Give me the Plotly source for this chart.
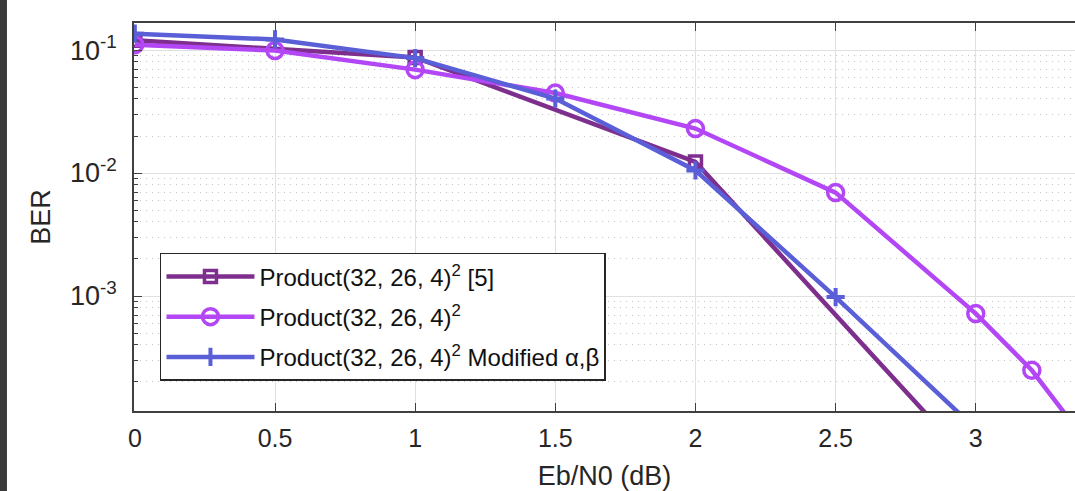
import plotly.graph_objects as go

# ---- data ----
x_ref = [0, 1, 2, 3]
ber_ref = [0.120, 0.087, 0.0123, 4.0e-5]

x_prod = [0, 0.5, 1, 1.5, 2, 2.5, 3, 3.2, 3.4]
ber_prod = [0.1106, 0.099, 0.0693, 0.0447, 0.0230, 0.00693, 7.2e-4, 2.49e-4, 6.3e-5]

x_mod = [0, 0.5, 1, 1.5, 2, 2.5, 3]
ber_mod = [0.136, 0.122, 0.086, 0.0403, 0.0105, 9.8e-4, 8.3e-5]

names = [
    "Product(32, 26, 4)<sup>2</sup> [5]",
    "Product(32, 26, 4)<sup>2</sup>",
    "Product(32, 26, 4)<sup>2</sup> Modified α,β",
]
colors = ["#7E2F8E", "#B346F5", "#5A5FD8"]

y_major = [0.1, 0.01, 0.001]
y_major_text = ["10<sup>-1</sup>", "10<sup>-2</sup>", "10<sup>-3</sup>"]
y_minor = [m * 10.0 ** e for e in (-4, -3, -2, -1) for m in range(2, 10)]
x_ticks = [0, 0.5, 1, 1.5, 2, 2.5, 3]
x_tick_text = ["0", "0.5", "1", "1.5", "2", "2.5", "3"]

FONT = "Liberation Sans, Arial, sans-serif"
TXT = "#262626"

fig = go.Figure()
fig.add_trace(go.Scatter(
    x=x_ref, y=ber_ref, name=names[0], mode="lines+markers", legendgroup="a",
    line=dict(color=colors[0], width=4.5),
    marker=dict(symbol="square-open", size=12, color=colors[0], line=dict(width=3.5, color=colors[0])),
))
fig.add_trace(go.Scatter(
    x=x_prod, y=ber_prod, name=names[1], mode="lines+markers", legendgroup="b",
    line=dict(color=colors[1], width=4.5),
    marker=dict(symbol="circle-open", size=16, color=colors[1], line=dict(width=3.5, color=colors[1])),
))
fig.add_trace(go.Scatter(
    x=x_mod, y=ber_mod, name=names[2], mode="lines+markers", legendgroup="c",
    line=dict(color=colors[2], width=4.5),
    marker=dict(symbol="cross-thin-open", size=13, color=colors[2], line=dict(width=4, color=colors[2])),
))

fig.update_layout(
    width=1075, height=491,
    margin=dict(l=134, r=0, t=23, b=80, pad=0),
    paper_bgcolor="white", plot_bgcolor="white",
    font=dict(family=FONT, size=25, color=TXT),
    showlegend=True,
    legend=dict(
        x=0.0276, y=0.4075, xanchor="left", yanchor="top",
        bgcolor="white", bordercolor=TXT, borderwidth=1.5,
        font=dict(family=FONT, size=24, color="#111111"),
        traceorder="grouped", tracegroupgap=6, itemwidth=88,
    ),
    shapes=[dict(type="rect", xref="paper", yref="paper",
                 x0=-0.1424, x1=-0.1350, y0=-0.3, y1=1.2,
                 fillcolor="#3a3a3a", line=dict(width=0), layer="above")],
)

fig.update_xaxes(
    range=[-0.003, 3.354], tickvals=x_ticks, ticktext=x_tick_text,
    showline=True, linecolor="#404040", linewidth=1.5, mirror="ticks",
    ticks="inside", ticklen=8, tickwidth=1.2, tickcolor="#404040",
    showgrid=True, gridcolor="#e0e0e0", gridwidth=1, zeroline=False,
    tickfont=dict(size=25, color=TXT), ticklabelstandoff=4,
    title=dict(text="Eb/N0 (dB)", font=dict(size=27, color=TXT), standoff=17),
)
fig.update_yaxes(
    type="log", range=[-3.935, -0.78], tickvals=y_major, ticktext=y_major_text,
    showline=True, linecolor="#404040", linewidth=1.5, mirror=False,
    ticks="inside", ticklen=8, tickwidth=1.2, tickcolor="#404040",
    showgrid=True, gridcolor="#e0e0e0", gridwidth=1, zeroline=False,
    tickfont=dict(size=27, color=TXT), ticklabelstandoff=10,
    minor=dict(tickvals=y_minor, ticks="inside", ticklen=4, tickcolor="#404040",
               showgrid=True, gridcolor="#c4c4c4", griddash="1px,5px", gridwidth=1),
    title=dict(text="BER", font=dict(size=27, color=TXT), standoff=12),
)

fig.write_html("out.html", config={"displayModeBar": False},
               post_script="document.body.style.margin='0px';")
